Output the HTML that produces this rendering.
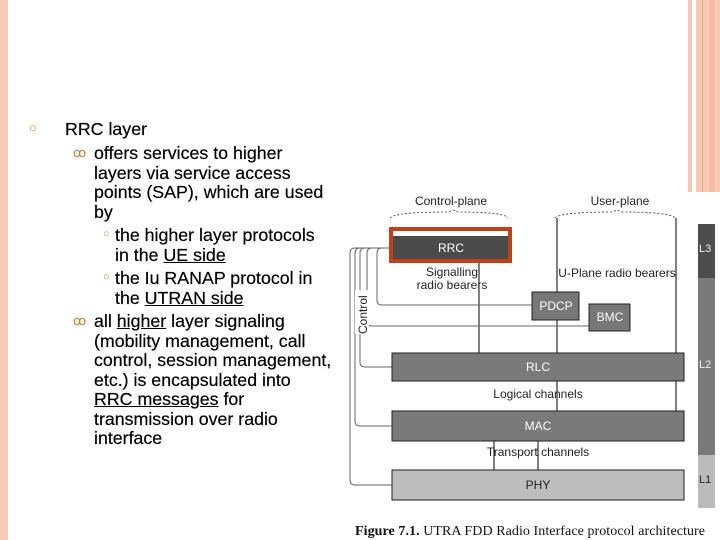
<!DOCTYPE html>
<html><head><meta charset="utf-8"><style>
body{margin:0;width:720px;height:540px;overflow:hidden;background:#fff;position:relative;font-family:"Liberation Sans",Arial,sans-serif;}
.t{position:absolute;font-size:17.8px;color:#000;line-height:19.5px;white-space:nowrap;-webkit-text-stroke:0.2px #000}
u{text-decoration:underline}
.b{position:absolute;color:#c08040;white-space:nowrap}
</style></head><body>
<div style="position:absolute;left:0;top:0;width:8px;height:540px;background:#f8c9b4"></div>
<div style="position:absolute;left:688px;top:0;width:4px;height:192px;background:#f8c9b4"></div>
<div style="position:absolute;left:696px;top:0;width:24px;height:192px;background:#f8c9b4"></div>
<div style="position:absolute;left:702px;top:0;width:1px;height:192px;background:#e8a080"></div>
<div style="position:absolute;left:709px;top:0;width:6px;height:192px;background:#f3bba2"></div>

<div class="b" style="left:29px;top:120px;font-size:13px">○</div>
<div class="t" style="left:65px;top:120px">RRC layer</div>
<div class="b" style="left:73px;top:145px;font-size:13px">ꝏ</div>
<div class="t" style="left:94px;top:144px">offers services to higher<br>layers via service access<br>points (SAP), which are used<br>by</div>
<div class="b" style="left:103px;top:228px;font-size:11px">○</div>
<div class="t" style="left:115px;top:226px">the higher layer protocols<br>in the <u>UE side</u></div>
<div class="b" style="left:103px;top:271px;font-size:11px">○</div>
<div class="t" style="left:115px;top:269px">the Iu RANAP protocol in<br>the <u>UTRAN side</u></div>
<div class="b" style="left:73px;top:313px;font-size:13px">ꝏ</div>
<div class="t" style="left:94px;top:312px">all <u>higher</u> layer signaling<br>(mobility management, call<br>control, session management,<br>etc.) is encapsulated into<br><u>RRC messages</u> for<br>transmission over radio<br>interface</div>

<svg width="720" height="540" style="position:absolute;left:0;top:0" font-family="Liberation Sans, sans-serif">
<g font-size="12" fill="#222" text-anchor="middle">
<text x="451" y="205">Control-plane</text>
<text x="620" y="205">User-plane</text>
</g>
<g fill="none" stroke="#333" stroke-dasharray="2,2" stroke-width="0.8">
<path d="M390 218 Q395 212 448 212 L453 210 L458 212 Q505 212 508 218"/>
<path d="M555 218 Q560 212 612 212 L617 210 L622 212 Q670 212 675 218"/>
</g>
<g stroke="#000" stroke-width="1">
<line x1="479" y1="262" x2="479" y2="353"/>
<line x1="557" y1="218" x2="557" y2="292"/>
<line x1="557" y1="320" x2="557" y2="353"/>
<line x1="557" y1="381" x2="557" y2="411"/>
<line x1="676" y1="218" x2="676" y2="353"/>
<line x1="676" y1="381" x2="676" y2="411"/>
<line x1="494" y1="441" x2="494" y2="470"/>
<line x1="538" y1="441" x2="538" y2="470"/>
</g>
<g fill="none" stroke="#666" stroke-width="1">
<path d="M392 248 L355 248 Q350 248 350 253 L350 480 Q350 485 355 485 L392 485"/>
<path d="M392 248 L360 248 Q355 248 355 253 L355 421 Q355 426 360 426 L392 426"/>
<path d="M392 248 L365 248 Q360 248 360 253 L360 362 Q360 367 365 367 L392 367"/>
<path d="M392 248 L372 248 Q367 248 367 253 L367 321 Q367 326 372 326 L589 326"/>
<path d="M392 248 L382 248 Q377 248 377 253 L377 300 Q377 305 382 305 L532 305"/>
</g>
<rect x="355" y="290" width="14" height="44" fill="#fff"/>
<text transform="translate(367,334) rotate(-90)" font-size="12" fill="#222">Control</text>
<rect x="391" y="229" width="119" height="32" fill="#fff" stroke="#c0401a" stroke-width="4"/>
<rect x="393" y="236" width="115" height="23" fill="#4a4a4a"/>
<text x="451" y="252" font-size="12" fill="#fff" text-anchor="middle">RRC</text>
<g font-size="12" fill="#222" text-anchor="middle">
<text x="452" y="276">Signalling</text>
<text x="452" y="289">radio bearers</text>
<text x="617" y="277">U-Plane radio bearers</text>
</g>
<rect x="532" y="292" width="47" height="28" fill="#777" stroke="#222"/>
<text x="556" y="310" font-size="12" fill="#fff" text-anchor="middle">PDCP</text>
<rect x="589" y="304" width="41" height="27" fill="#777" stroke="#222"/>
<text x="610" y="321" font-size="12" fill="#fff" text-anchor="middle">BMC</text>
<rect x="392" y="353" width="292" height="28" fill="#7a7a7a" stroke="#222"/>
<text x="538" y="371" font-size="12" fill="#fff" text-anchor="middle">RLC</text>
<text x="538" y="398" font-size="12" fill="#222" text-anchor="middle">Logical channels</text>
<rect x="392" y="411" width="292" height="30" fill="#7a7a7a" stroke="#222"/>
<text x="538" y="430" font-size="12" fill="#fff" text-anchor="middle">MAC</text>
<text x="538" y="456" font-size="12" fill="#222" text-anchor="middle">Transport channels</text>
<rect x="392" y="470" width="292" height="30" fill="#bdbdbd" stroke="#222"/>
<text x="538" y="489" font-size="12" fill="#222" text-anchor="middle">PHY</text>
<rect x="698" y="224" width="17" height="54" fill="#4d4d4d"/>
<rect x="698" y="278" width="17" height="177" fill="#7a7a7a"/>
<rect x="698" y="455" width="17" height="53" fill="#bbb"/>
<g font-size="11" fill="#eee"><text x="699" y="252">L3</text><text x="699" y="368">L2</text><text x="699" y="483" fill="#222">L1</text></g>
<text x="355" y="535" font-family="Liberation Serif, serif" font-size="14" fill="#111" textLength="350"><tspan font-weight="bold">Figure 7.1.</tspan> UTRA FDD Radio Interface protocol architecture</text>
</svg>
</body></html>
